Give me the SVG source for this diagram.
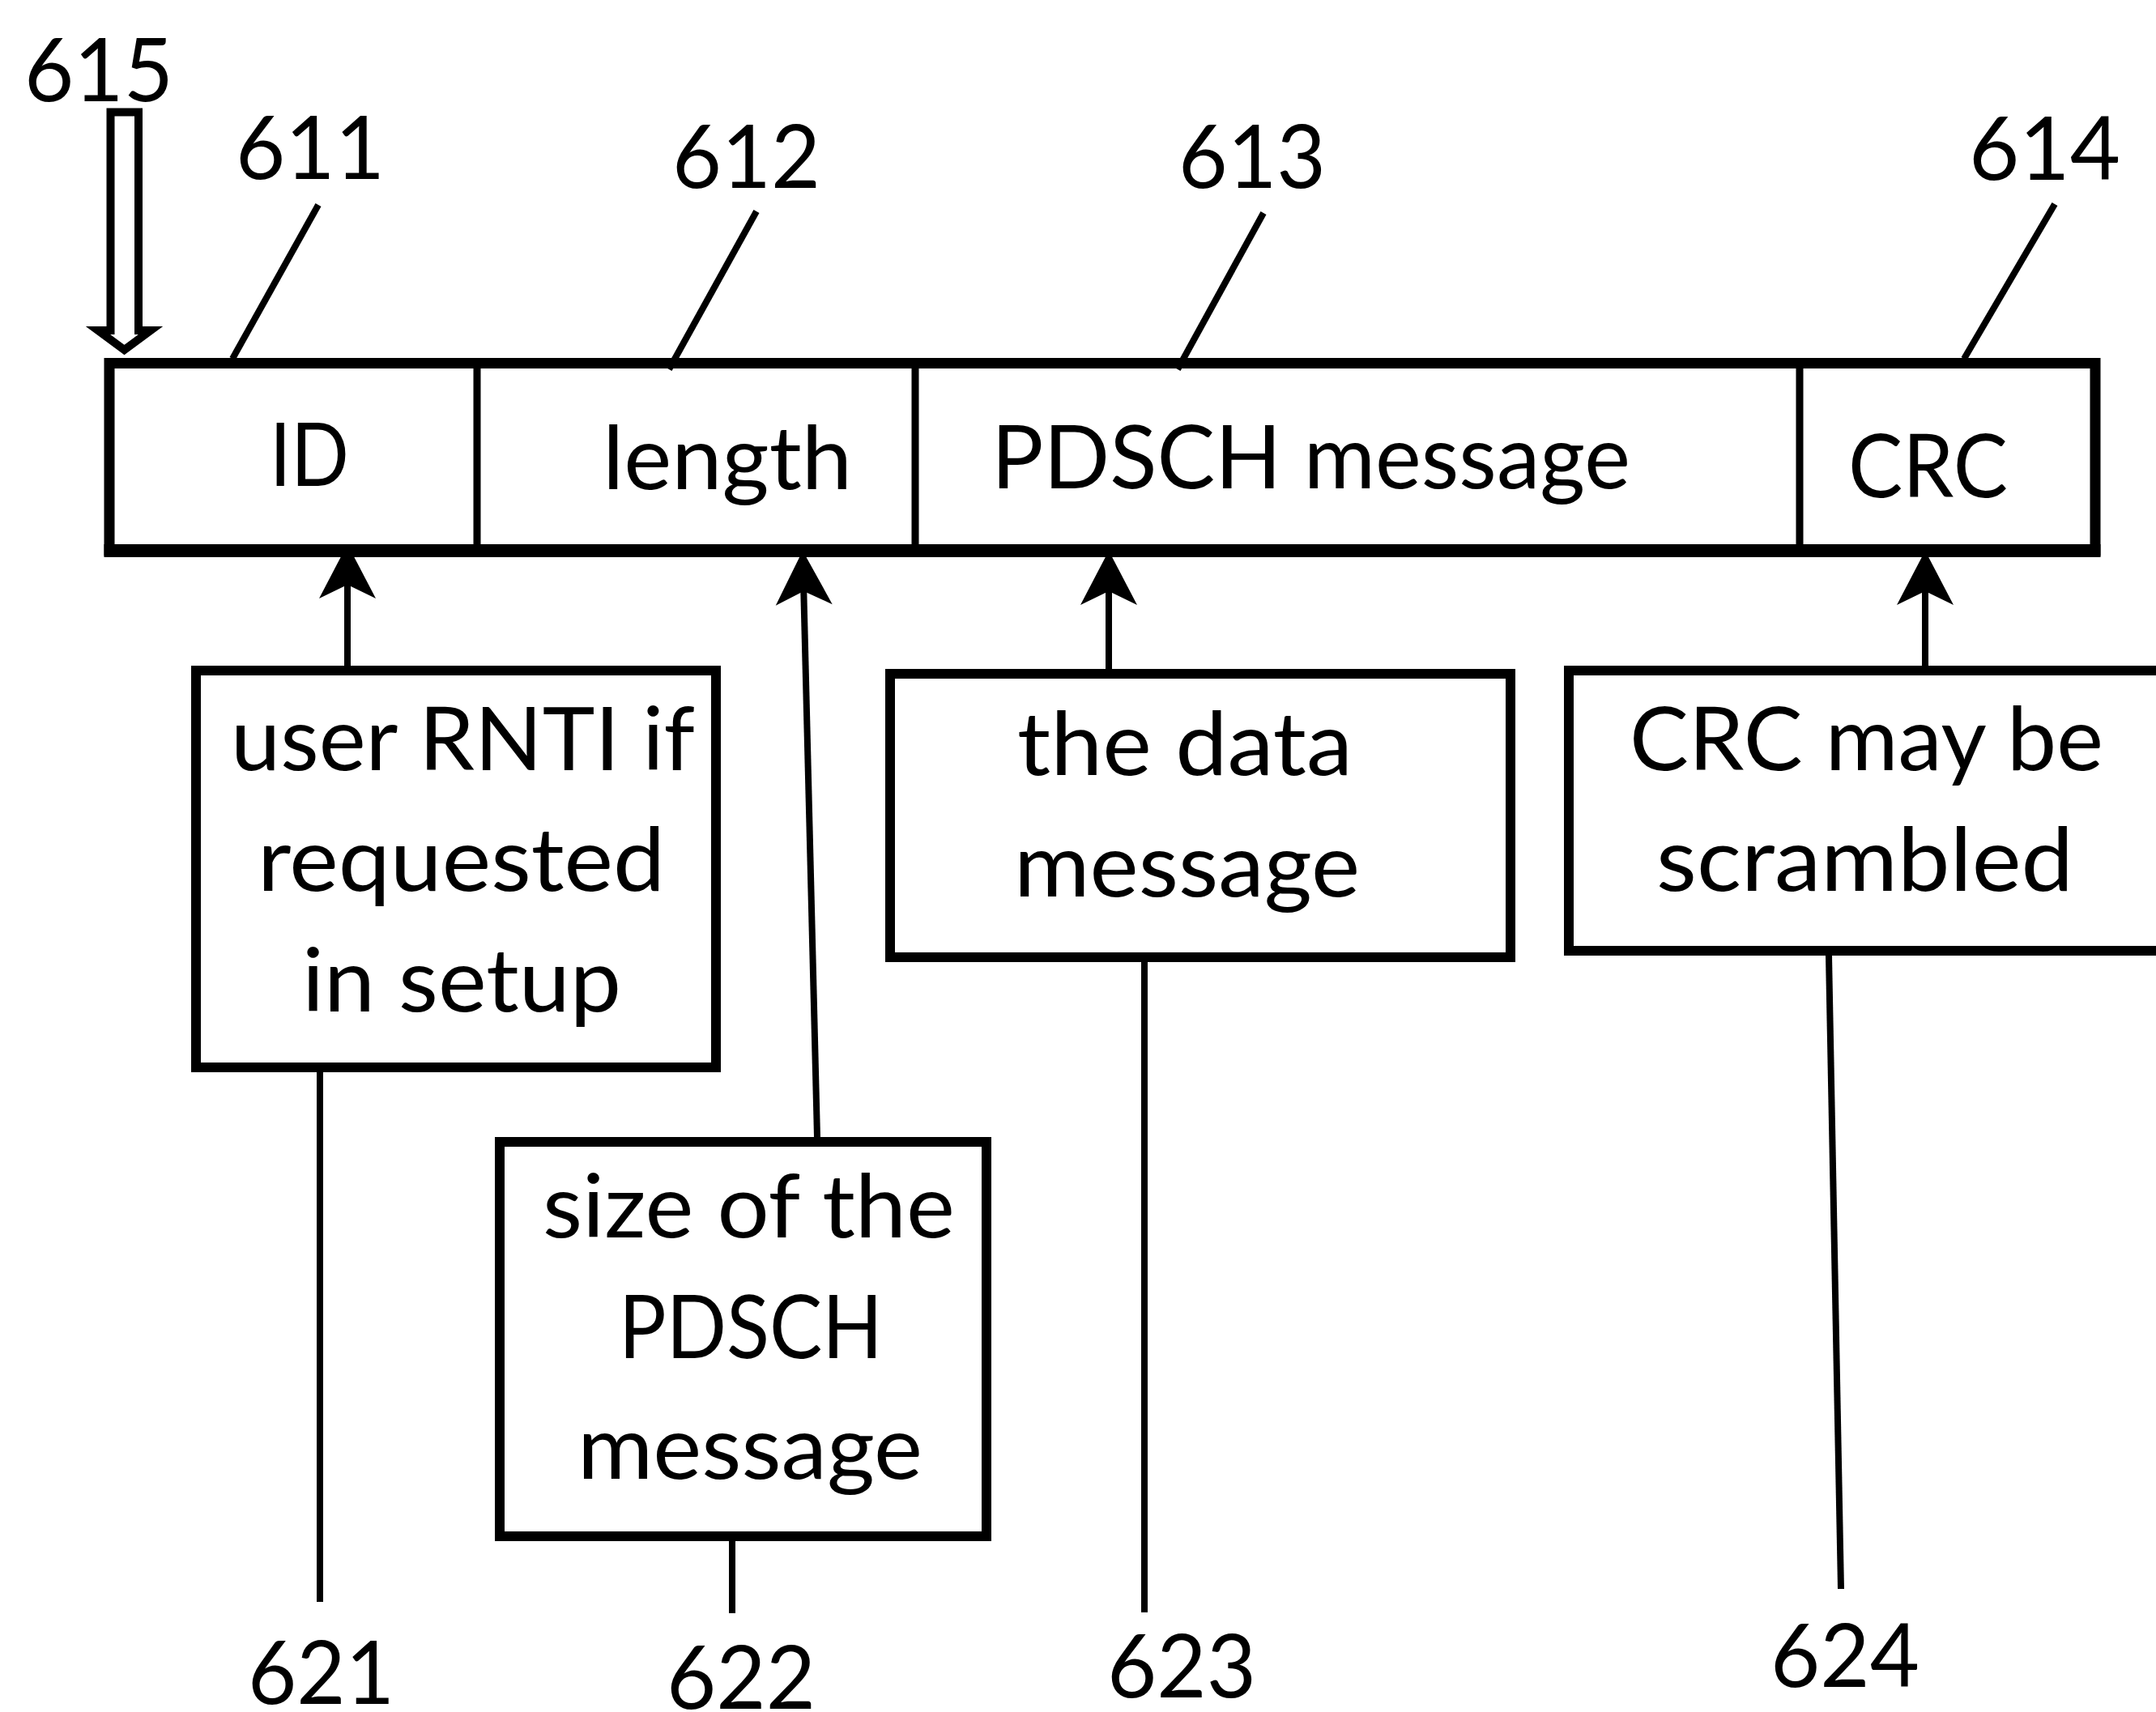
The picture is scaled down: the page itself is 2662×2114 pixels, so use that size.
<svg xmlns="http://www.w3.org/2000/svg" width="2662" height="2114" viewBox="0 0 2662 2114">
<style>
.t{font-family:Lato,"Liberation Sans",sans-serif;font-size:109px;fill:#000;text-anchor:middle}
.box{fill:#fff;stroke:#000;stroke-width:12}
.ln{stroke:#000;stroke-width:8;fill:none}
.div{stroke:#000;stroke-width:9}
</style>
<defs>
<marker id="ah" viewBox="-70 -40 80 80" refX="-50" refY="0" markerWidth="80" markerHeight="80" markerUnits="userSpaceOnUse" orient="auto">
<path d="M0,0 L-67,-35 L-50,0 L-67,35 Z" fill="#000"/>
</marker>
</defs>
<rect width="2662" height="2114" fill="#fff"/>

<g id="frame">
<rect x="135" y="448.5" width="2452" height="231.5" fill="#fff" stroke="#000" stroke-width="13"/>
<line x1="128.5" y1="680" x2="2593.5" y2="680" stroke="#000" stroke-width="16"/>
<line class="div" x1="589" y1="448" x2="589" y2="680"/>
<line class="div" x1="1130" y1="448" x2="1130" y2="680"/>
<line class="div" x1="2222" y1="448" x2="2222" y2="680"/>
</g>
<g id="field-id"><text class="t" x="382" y="600" textLength="98" lengthAdjust="spacingAndGlyphs">ID</text></g>
<g id="field-length"><text class="t" x="898" y="604" textLength="308" lengthAdjust="spacingAndGlyphs">length</text></g>
<g id="field-pdsch"><text class="t" x="1618.5" y="603" textLength="789" lengthAdjust="spacingAndGlyphs">PDSCH message</text></g>
<g id="field-crc"><text class="t" x="2380.5" y="614" textLength="197" lengthAdjust="spacingAndGlyphs">CRC</text></g>

<g id="arrow-615">
<polygon points="136.5,138.5 171,138.5 171,408 186,408 153.5,432 121,408 136.5,408" fill="#fff" stroke="#000" stroke-width="10"/>
<text class="t" x="122" y="125" textLength="184" lengthAdjust="spacingAndGlyphs">615</text>
</g>

<g id="labels-top">
<text class="t" x="383" y="221" textLength="184" lengthAdjust="spacingAndGlyphs">611</text>
<text class="t" x="921.5" y="232" textLength="183" lengthAdjust="spacingAndGlyphs">612</text>
<text class="t" x="1546" y="232" textLength="182" lengthAdjust="spacingAndGlyphs">613</text>
<text class="t" x="2524.5" y="222" textLength="187" lengthAdjust="spacingAndGlyphs">614</text>
</g>

<g id="box-621">
<rect class="box" x="242" y="828" width="642" height="490"/>
<text class="t" x="571.5" y="951" textLength="573" lengthAdjust="spacingAndGlyphs">user RNTI if</text>
<text class="t" x="569.5" y="1100" textLength="503" lengthAdjust="spacingAndGlyphs">requested</text>
<text class="t" x="570" y="1249" textLength="394" lengthAdjust="spacingAndGlyphs">in setup</text>
</g>
<g id="box-622">
<rect class="box" x="617" y="1410" width="601" height="487"/>
<text class="t" x="924.5" y="1528" textLength="509" lengthAdjust="spacingAndGlyphs">size of the</text>
<text class="t" x="927" y="1677" textLength="326" lengthAdjust="spacingAndGlyphs">PDSCH</text>
<text class="t" x="926" y="1826" textLength="426" lengthAdjust="spacingAndGlyphs">message</text>
</g>
<g id="box-623">
<rect class="box" x="1099" y="832" width="766" height="350"/>
<text class="t" x="1463" y="957" textLength="414" lengthAdjust="spacingAndGlyphs">the data</text>
<text class="t" x="1465.5" y="1107" textLength="427" lengthAdjust="spacingAndGlyphs">message</text>
</g>
<g id="box-624">
<rect class="box" x="1937" y="828" width="760" height="346"/>
<text class="t" x="2304.5" y="951" textLength="585" lengthAdjust="spacingAndGlyphs">CRC may be</text>
<text class="t" x="2302.5" y="1100" textLength="515" lengthAdjust="spacingAndGlyphs">scrambled</text>
</g>

<g id="labels-bottom">
<text class="t" x="396.5" y="2104" textLength="181" lengthAdjust="spacingAndGlyphs">621</text>
<text class="t" x="915" y="2110" textLength="184" lengthAdjust="spacingAndGlyphs">622</text>
<text class="t" x="1459" y="2096" textLength="184" lengthAdjust="spacingAndGlyphs">623</text>
<text class="t" x="2278" y="2083" textLength="184" lengthAdjust="spacingAndGlyphs">624</text>
</g>

<g id="connectors">
<line class="ln" x1="393" y1="253" x2="287" y2="443"/>
<line class="ln" x1="934" y1="261" x2="826" y2="456"/>
<line class="ln" x1="1560" y1="263" x2="1454" y2="456"/>
<line class="ln" x1="2537" y1="252" x2="2425" y2="443"/>
<line class="ln" x1="429" y1="822" x2="429" y2="722" marker-end="url(#ah)"/>
<line class="ln" x1="1009" y1="1404" x2="992.3" y2="730" marker-end="url(#ah)"/>
<line class="ln" x1="1369" y1="826" x2="1369" y2="730" marker-end="url(#ah)"/>
<line class="ln" x1="2377" y1="822" x2="2377" y2="730" marker-end="url(#ah)"/>
<line class="ln" x1="395" y1="1324" x2="395" y2="1978"/>
<line class="ln" x1="904" y1="1903" x2="904" y2="1992"/>
<line class="ln" x1="1413" y1="1188" x2="1413" y2="1991"/>
<line class="ln" x1="2258" y1="1180" x2="2273" y2="1962"/>
</g>
</svg>
